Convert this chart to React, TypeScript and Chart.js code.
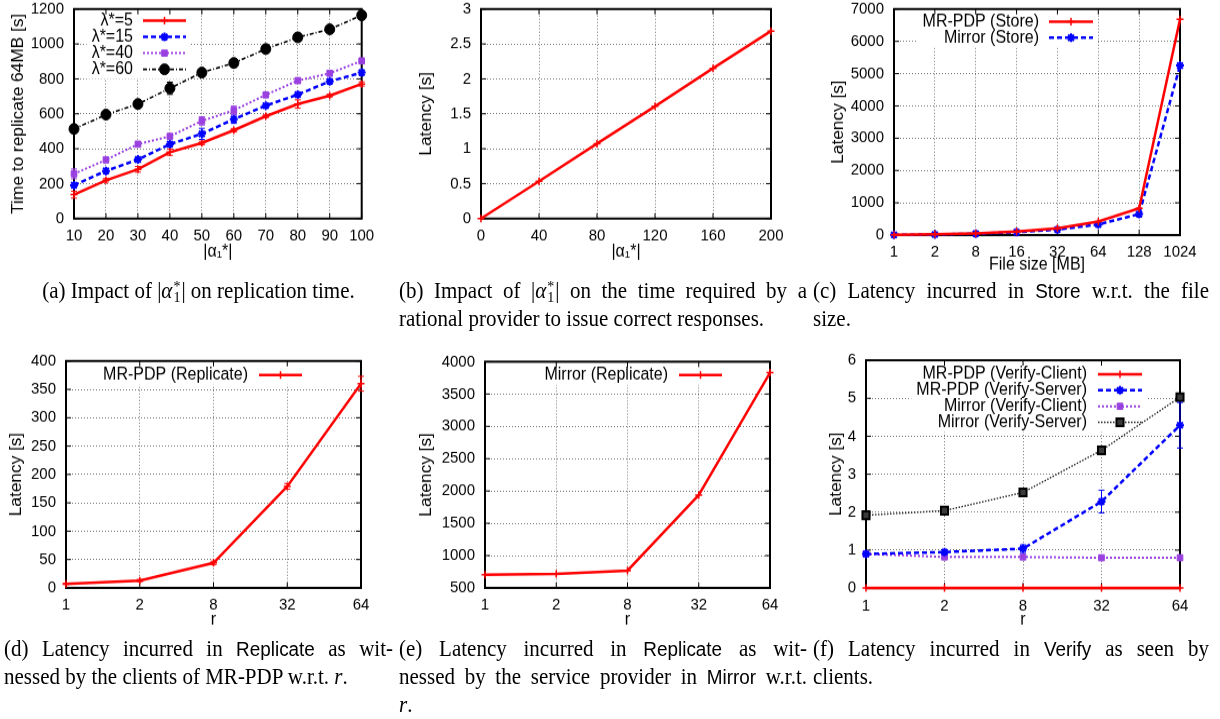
import React, { useEffect, useRef } from 'react';
import { Chart, registerables, PointElement } from 'chart.js';
Chart.register(...registerables);

const SANS = "'Liberation Sans', Arial, Helvetica, sans-serif";
const SERIF = "'Liberation Serif', 'Times New Roman', serif";

// ---------- (a) ----------
const alphaA = [10, 20, 30, 40, 50, 60, 70, 80, 90, 100];
const lambda5 = [137, 219, 282, 380, 433, 506, 586, 656, 704, 771];
const lambda15 = [191, 273, 338, 426, 485, 569, 647, 710, 786, 836];
const lambda40 = [256, 336, 426, 471, 559, 620, 708, 790, 832, 903];
const lambda60 = [513, 595, 656, 746, 836, 891, 971, 1038, 1084, 1164];
const lambda5Err = [20, 10, 16, 18, 10, 10, 8, 24, 8, 12];
const lambda15Err = [12, 12, 12, 15, 32, 24, 10, 10, 10, 12];
const lambda40Err = [28, 10, 10, 10, 24, 24, 10, 12, 12, 10];
const lambda60Err = [12, 8, 10, 35, 8, 10, 10, 10, 8, 10];
const lambdaLabels = ['λ*=5', 'λ*=15', 'λ*=40', 'λ*=60'];

// ---------- (b) ----------
const alphaB = [0, 40, 80, 120, 160, 200];
const latencyB = [0, 0.534, 1.073, 1.607, 2.151, 2.685];

// ---------- (c) ----------
const fileSizes = ['1', '2', '8', '16', '32', '64', '128', '1024'];
const mrpdpStore = [10, 25, 55, 110, 210, 420, 830, 6680];
const mirrorStore = [8, 18, 45, 90, 170, 330, 650, 5250];

// ---------- (d), (e), (f) ----------
const rValues = ['1', '2', '8', '32', '64'];
const mrpdpReplicate = [7, 13, 44, 179, 360];
const mrpdpReplicateErr = [1, 2, 3, 5, 13];
const mirrorReplicate = [706, 716, 768, 1936, 3830];
const mrpdpVerifyClient = [0.005, 0.005, 0.005, 0.005, 0.005];
const mrpdpVerifyServer = [0.9, 0.95, 1.04, 2.28, 4.29];
const mrpdpVerifyServerErr = [0.05, 0.05, 0.1, 0.3, 0.6];
const mirrorVerifyClient = [0.9, 0.82, 0.82, 0.8, 0.8];
const mirrorVerifyServer = [1.92, 2.04, 2.52, 3.63, 5.03];

const RED = '#ff0000';
const BLUE = '#0000ff';
const PURPLE = '#9a40e0';
const BLACK = '#000000';
const GRID = 'rgba(0,0,0,0.55)';

// vertical stretch of the whole figure (the reference is slightly taller than wide)
const SY = 1.08;
const TICK_FS = 15;
const TITLE_FS = 16;
const LEG_FS = 16;
const TICK_LH = TICK_FS * 1.2;
const TITLE_LH = TITLE_FS * 1.2;

function redStyle() {
  return {
    borderColor: RED, backgroundColor: RED, borderWidth: 2.5,
    pointStyle: 'cross', pointRadius: 3.5, pointBorderWidth: 1.5,
    pointBorderColor: RED, pointBackgroundColor: RED,
  };
}
function blueStyle() {
  return {
    borderColor: BLUE, backgroundColor: BLUE, borderWidth: 2.5, borderDash: [5, 3],
    pointStyle: 'star', pointRadius: 4, pointBorderWidth: 2,
    pointBorderColor: BLUE, pointBackgroundColor: BLUE,
  };
}
function purpleStyle() {
  return {
    borderColor: PURPLE, backgroundColor: PURPLE, borderWidth: 2, borderDash: [2, 2],
    pointStyle: 'rect', pointRadius: 4, pointBorderWidth: 1,
    pointBorderColor: PURPLE, pointBackgroundColor: PURPLE,
  };
}
function blackDashDot() {
  return {
    borderColor: BLACK, backgroundColor: BLACK, borderWidth: 1.6, borderDash: [4, 2, 1, 2],
    pointStyle: 'circle', pointRadius: 5, pointBorderWidth: 1,
    pointBorderColor: BLACK, pointBackgroundColor: BLACK,
  };
}
function blackDotted() {
  return {
    borderColor: '#222', backgroundColor: '#222', borderWidth: 1.4, borderDash: [1.5, 1.5],
    pointStyle: 'rect', pointRadius: 5, pointBorderWidth: 2,
    pointBorderColor: BLACK, pointBackgroundColor: '#3a3a3a',
  };
}

const xy = (xs: number[], ys: number[]) => xs.map((x, i) => ({ x, y: ys[i] }));

const gpPlugin = {
  id: 'gp',
  beforeDatasetsDraw(chart: any, _args: any, opts: any) {
    const ctx = chart.ctx;
    const a = chart.chartArea;
    ctx.save();
    const lg = opts && opts.legend;
    if (lg && lg.textRight) {
      ctx.font = `${LEG_FS}px ${SANS}`;
      const dsets = chart.data.datasets;
      let maxW = 0;
      dsets.forEach((d: any) => { maxW = Math.max(maxW, ctx.measureText(d.label).width); });
      const left = lg.textRight - maxW - 5;
      const right = lg.sampleEnd + 5;
      const top = lg.y0 - 9;
      const bottom = lg.y0 + (dsets.length - 1) * lg.dy + 9;
      ctx.fillStyle = '#ffffff';
      ctx.fillRect(left, top, right - left, bottom - top);
    }
    ctx.strokeStyle = '#000';
    ctx.lineWidth = 2;
    ctx.strokeRect(a.left, a.top, a.right - a.left, a.bottom - a.top);
    ctx.lineWidth = 1;
    const xs = chart.scales.x;
    const ys = chart.scales.y;
    ctx.beginPath();
    xs.ticks.forEach((_t: any, i: number) => {
      const p = xs.getPixelForTick(i);
      ctx.moveTo(p, a.bottom); ctx.lineTo(p, a.bottom - 5);
      ctx.moveTo(p, a.top); ctx.lineTo(p, a.top + 5);
    });
    ys.ticks.forEach((_t: any, i: number) => {
      const p = ys.getPixelForTick(i);
      ctx.moveTo(a.left, p); ctx.lineTo(a.left + 5, p);
      ctx.moveTo(a.right, p); ctx.lineTo(a.right - 5, p);
    });
    ctx.stroke();
    ctx.restore();
  },
  afterDatasetsDraw(chart: any, _args: any, opts: any) {
    const ctx = chart.ctx;
    const ys = chart.scales.y;
    ctx.save();
    chart.data.datasets.forEach((d: any, i: number) => {
      if (!d.errorBars) return;
      const meta = chart.getDatasetMeta(i);
      ctx.strokeStyle = d.borderColor;
      ctx.lineWidth = 1;
      ctx.setLineDash([]);
      ctx.beginPath();
      d.data.forEach((pt: any, j: number) => {
        const v = typeof pt === 'number' ? pt : pt.y;
        const e = d.errorBars[j];
        const el = meta.data[j];
        if (!el || !e) return;
        const y1 = ys.getPixelForValue(v + e);
        const y2 = ys.getPixelForValue(v - e);
        ctx.moveTo(el.x, y1); ctx.lineTo(el.x, y2);
        ctx.moveTo(el.x - 3, y1); ctx.lineTo(el.x + 3, y1);
        ctx.moveTo(el.x - 3, y2); ctx.lineTo(el.x + 3, y2);
      });
      ctx.stroke();
    });
    const lg = opts && opts.legend;
    if (lg && lg.textRight) {
      chart.data.datasets.forEach((d: any, i: number) => {
        const y = lg.y0 + i * lg.dy;
        ctx.setLineDash([]);
        ctx.fillStyle = '#000';
        ctx.font = `${LEG_FS}px ${SANS}`;
        ctx.textAlign = 'right';
        ctx.textBaseline = 'middle';
        ctx.fillText(d.label, lg.textRight, y);
        ctx.strokeStyle = d.borderColor;
        ctx.lineWidth = d.borderWidth;
        ctx.setLineDash(d.borderDash || []);
        ctx.beginPath();
        ctx.moveTo(lg.sampleStart, y);
        ctx.lineTo(lg.sampleEnd, y);
        ctx.stroke();
        ctx.setLineDash([]);
        const mx = (lg.sampleStart + lg.sampleEnd) / 2;
        const pe: any = new (PointElement as any)({
          x: mx,
          y,
          options: {
            pointStyle: d.pointStyle, radius: d.pointRadius, rotation: 0,
            borderWidth: d.pointBorderWidth, backgroundColor: d.pointBackgroundColor,
            borderColor: d.pointBorderColor,
          },
        });
        pe.x = mx;
        pe.y = y;
        pe.draw(ctx, chart.chartArea);
      });
    }
    ctx.restore();
  },
};

type Geo = { L: number; T: number; R: number; B: number; yTitleX: number; xTitleY: number };
type LegendPos = { textRight: number; sampleStart: number; sampleEnd: number; y0: number; dy: number };
type PanelSpec = {
  geo: Geo;
  xType: 'linear' | 'category';
  labels?: string[];
  xMin?: number; xMax?: number; xStep?: number;
  yMin: number; yMax: number; yStep: number;
  xTitle: string; yTitle: string;
  datasets: () => any[];
  legend?: LegendPos;
};

// all geometry below is in page pixels; vertical values are converted to canvas units (÷SY)
function computeLayout(g: Geo) {
  const titleLeft = g.yTitleX - TITLE_LH / 2;
  const cl = Math.floor(titleLeft - 2);
  const ct = Math.floor(g.T - 30);
  const padL = titleLeft - cl;
  const padT = (g.T - ct) / SY;
  const yW = g.L - titleLeft;
  const plotH = (g.B - g.T) / SY;
  const xH = (g.xTitleY - g.B) / SY + TITLE_LH / 2;
  const w = Math.ceil(padL + yW + (g.R - g.L) + 40);
  const h = Math.ceil(padT + plotH + xH + 24);
  const padR = w - padL - yW - (g.R - g.L);
  const padB = h - padT - plotH - xH;
  const xTickPad = 17.5 / SY - TICK_LH / 2;
  return { cl, ct, padL, padT, padR, padB, yW, xH, w, h, xTickPad };
}

function Panel({ spec }: { spec: PanelSpec }) {
  const ref = useRef<HTMLCanvasElement | null>(null);
  const lay = computeLayout(spec.geo);
  useEffect(() => {
    if (!ref.current) return;
    const legend = spec.legend
      ? {
          textRight: spec.legend.textRight - lay.cl,
          sampleStart: spec.legend.sampleStart - lay.cl,
          sampleEnd: spec.legend.sampleEnd - lay.cl,
          y0: (spec.legend.y0 - lay.ct) / SY,
          dy: spec.legend.dy / SY,
        }
      : {};
    const tickFont = { family: SANS, size: TICK_FS };
    const titleFont = { family: SANS, size: TITLE_FS };
    const xScale: any = {
      type: spec.xType,
      offset: false,
      ticks: { autoSkip: false, maxRotation: 0, padding: lay.xTickPad, color: '#000', font: tickFont },
      grid: { color: GRID, lineWidth: 1, drawTicks: false },
      border: { display: false, dash: [1, 2] },
      title: { display: true, text: spec.xTitle, color: '#000', font: titleFont, padding: 0 },
      afterFit: (s: any) => { s.height = lay.xH; },
    };
    if (spec.xType === 'linear') {
      xScale.min = spec.xMin;
      xScale.max = spec.xMax;
      xScale.ticks.stepSize = spec.xStep;
      xScale.ticks.callback = (v: any) => String(v);
    }
    const chart = new Chart(ref.current, {
      type: 'line',
      data: { labels: spec.labels, datasets: spec.datasets().map((d) => ({ tension: 0, clip: false, ...d })) },
      options: {
        animation: false,
        responsive: false,
        devicePixelRatio: 1,
        layout: { padding: { left: lay.padL, top: lay.padT, right: lay.padR, bottom: lay.padB } },
        plugins: { legend: { display: false }, tooltip: { enabled: false }, gp: { legend } } as any,
        scales: {
          x: xScale,
          y: {
            type: 'linear',
            min: spec.yMin,
            max: spec.yMax,
            ticks: { stepSize: spec.yStep, padding: 10, color: '#000', font: tickFont, callback: (v: any) => String(v) },
            grid: { color: GRID, lineWidth: 1, drawTicks: false },
            border: { display: false, dash: [1, 2] },
            title: { display: true, text: spec.yTitle, color: '#000', font: titleFont, padding: 0 },
            afterFit: (s: any) => { s.width = lay.yW; },
          } as any,
        },
      },
      plugins: [gpPlugin as any],
    } as any);
    return () => chart.destroy();
  }, []);
  return (
    <canvas
      ref={ref}
      width={lay.w}
      height={lay.h}
      style={{ position: 'absolute', left: lay.cl, top: lay.ct, width: lay.w, height: lay.h * SY }}
    />
  );
}

const panelA: PanelSpec = {
  geo: { L: 74, T: 9, R: 361.7, B: 218.5, yTitleX: 19, xTitleY: 252 },
  xType: 'linear', xMin: 10, xMax: 100, xStep: 10,
  yMin: 0, yMax: 1200, yStep: 200,
  xTitle: '|α₁*|', yTitle: 'Time to replicate 64MB [s]',
  datasets: () => [
    { label: lambdaLabels[0], data: xy(alphaA, lambda5), errorBars: lambda5Err, ...redStyle() },
    { label: lambdaLabels[1], data: xy(alphaA, lambda15), errorBars: lambda15Err, ...blueStyle() },
    { label: lambdaLabels[2], data: xy(alphaA, lambda40), errorBars: lambda40Err, ...purpleStyle() },
    { label: lambdaLabels[3], data: xy(alphaA, lambda60), errorBars: lambda60Err, ...blackDashDot() },
  ],
  legend: { textRight: 133, sampleStart: 143, sampleEnd: 186, y0: 20.7, dy: 16.2 },
};

const panelB: PanelSpec = {
  geo: { L: 481, T: 9, R: 771, B: 218.5, yTitleX: 426.7, xTitleY: 252 },
  xType: 'linear', xMin: 0, xMax: 200, xStep: 40,
  yMin: 0, yMax: 3, yStep: 0.5,
  xTitle: '|α₁*|', yTitle: 'Latency [s]',
  datasets: () => [{ label: 'latency', data: xy(alphaB, latencyB), ...redStyle() }],
};

const panelC: PanelSpec = {
  geo: { L: 894, T: 9, R: 1180, B: 235, yTitleX: 838.3, xTitleY: 265 },
  xType: 'category', labels: fileSizes,
  yMin: 0, yMax: 7000, yStep: 1000,
  xTitle: 'File size [MB]', yTitle: 'Latency [s]',
  datasets: () => [
    { label: 'MR-PDP (Store)', data: mrpdpStore, ...redStyle() },
    { label: 'Mirror (Store)', data: mirrorStore, ...blueStyle() },
  ],
  legend: { textRight: 1039, sampleStart: 1049, sampleEnd: 1093, y0: 21.7, dy: 16 },
};

const panelD: PanelSpec = {
  geo: { L: 66, T: 361, R: 361, B: 588, yTitleX: 16.7, xTitleY: 620 },
  xType: 'category', labels: rValues,
  yMin: 0, yMax: 400, yStep: 50,
  xTitle: 'r', yTitle: 'Latency [s]',
  datasets: () => [
    { label: 'MR-PDP (Replicate)', data: mrpdpReplicate, errorBars: mrpdpReplicateErr, ...redStyle() },
  ],
  legend: { textRight: 248, sampleStart: 259, sampleEnd: 302, y0: 375, dy: 16 },
};

const panelE: PanelSpec = {
  geo: { L: 485, T: 361.7, R: 770, B: 588, yTitleX: 426.7, xTitleY: 620 },
  xType: 'category', labels: rValues,
  yMin: 500, yMax: 4000, yStep: 500,
  xTitle: 'r', yTitle: 'Latency [s]',
  datasets: () => [{ label: 'Mirror (Replicate)', data: mirrorReplicate, ...redStyle() }],
  legend: { textRight: 668, sampleStart: 679, sampleEnd: 722, y0: 375, dy: 16 },
};

const panelF: PanelSpec = {
  geo: { L: 866, T: 360.3, R: 1180, B: 588.3, yTitleX: 836.7, xTitleY: 620 },
  xType: 'category', labels: rValues,
  yMin: 0, yMax: 6, yStep: 1,
  xTitle: 'r', yTitle: 'Latency [s]',
  datasets: () => [
    { label: 'MR-PDP (Verify-Client)', data: mrpdpVerifyClient, ...redStyle() },
    { label: 'MR-PDP (Verify-Server)', data: mrpdpVerifyServer, errorBars: mrpdpVerifyServerErr, ...blueStyle() },
    { label: 'Mirror (Verify-Client)', data: mirrorVerifyClient, ...purpleStyle() },
    { label: 'Mirror (Verify-Server)', data: mirrorVerifyServer, ...blackDotted() },
  ],
  legend: { textRight: 1087, sampleStart: 1098, sampleEnd: 1142, y0: 374.3, dy: 16 },
};

const Alpha = () => (
  <span>
    |<i>α</i>
    <span style={{ position: 'relative', display: 'inline-block', width: 9, height: 0 }}>
      <span style={{ position: 'absolute', left: 1, bottom: 3, fontSize: 14, lineHeight: '14px' }}>*</span>
      <span style={{ position: 'absolute', left: 1, top: -7, fontSize: 14, lineHeight: '14px' }}>1</span>
    </span>
    |
  </span>
);

const Sf = ({ children }: { children: any }) => (
  <span style={{ fontFamily: SANS, fontSize: '0.9em' }}>{children}</span>
);

function Cap({ x, yc, w, mode, children }: { x: number; yc: number; w?: number; mode: 'j' | 'l' | 'c'; children: any }) {
  const align = mode === 'j' ? 'justify' : mode === 'c' ? 'center' : 'left';
  return (
    <div
      style={{
        position: 'absolute', left: x, top: yc - 14, width: w ?? 400, height: 28,
        fontFamily: SERIF, fontSize: 21, lineHeight: '28px', whiteSpace: 'nowrap', color: '#000',
        textAlign: align as any, textAlignLast: align as any,
        transform: 'scaleY(1.1)', transformOrigin: 'center',
      }}
    >
      {children}
    </div>
  );
}

export default function App() {
  return (
    <div style={{ position: 'absolute', left: 0, top: 0, width: 1220, height: 719, overflow: 'hidden', background: '#fff' }}>
      <Panel spec={panelA} />
      <Panel spec={panelB} />
      <Panel spec={panelC} />
      <Panel spec={panelD} />
      <Panel spec={panelE} />
      <Panel spec={panelF} />

      <Cap x={4} yc={290} w={389} mode="c">(a) Impact of <Alpha /> on replication time.</Cap>
      <Cap x={399} yc={290} w={408} mode="j">(b) Impact of <Alpha /> on the time required by a</Cap>
      <Cap x={399} yc={318} w={408} mode="l">rational provider to issue correct responses.</Cap>
      <Cap x={813} yc={290} w={396} mode="j">(c) Latency incurred in <Sf>Store</Sf> w.r.t. the file</Cap>
      <Cap x={813} yc={318} mode="l">size.</Cap>

      <Cap x={4} yc={648} w={389} mode="j">(d) Latency incurred in <Sf>Replicate</Sf> as wit-</Cap>
      <Cap x={4} yc={676} mode="l">nessed by the clients of MR-PDP w.r.t. <i>r</i>.</Cap>
      <Cap x={399} yc={648} w={408} mode="j">(e) Latency incurred in <Sf>Replicate</Sf> as wit-</Cap>
      <Cap x={399} yc={676} w={408} mode="j">nessed by the service provider in <Sf>Mirror</Sf> w.r.t.</Cap>
      <Cap x={399} yc={704} mode="l"><i>r</i>.</Cap>
      <Cap x={813} yc={648} w={396} mode="j">(f) Latency incurred in <Sf>Verify</Sf> as seen by</Cap>
      <Cap x={813} yc={676} mode="l">clients.</Cap>
    </div>
  );
}
